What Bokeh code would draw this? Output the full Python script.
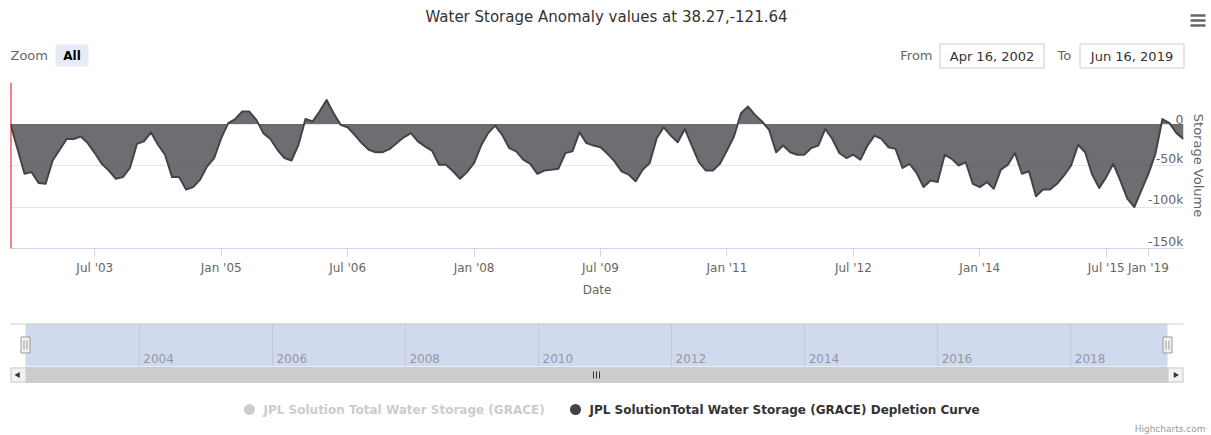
import numpy as np
import pandas as pd
from bokeh.plotting import figure
from bokeh.models import Range1d, FixedTicker, Span, ColumnDataSource
from bokeh.layouts import column
from bokeh.embed import file_html
from bokeh.resources import INLINE
from bokeh.core.properties import value

FONT = "DejaVu Sans"

# ---------------- data ----------------
title_text = "Water Storage Anomaly values at 38.27,-121.64"
series_name = "JPL SolutionTotal Water Storage (GRACE) Depletion Curve"
hidden_series_name = "JPL Solution Total Water Storage (GRACE)"
from_date = "2002-04-16"
to_date = "2019-06-16"
from_label = "Apr 16, 2002"
to_label = "Jun 16, 2019"

grace_dates = pd.date_range("2002-07-01", "2015-08-01", freq="MS")
fo_dates = pd.to_datetime(["2018-07-01", "2018-10-01", "2018-11-01", "2018-12-01",
                           "2019-01-01", "2019-02-01", "2019-03-01", "2019-04-01",
                           "2019-05-01", "2019-06-01"])
dates = grace_dates.append(fo_dates)

# storage anomaly, thousands
storage_k = [
    0, -30, -60, -58, -71, -72, -44, -31, -18, -18,
    -15, -23, -35, -48, -56, -66, -64, -53, -24, -21,
    -10, -25, -37, -64, -64, -79, -76, -67, -51, -41,
    -17, 1, 6, 15, 15, 5, -11, -18, -31, -41,
    -44, -25, 6, 3, 15, 29, 13, -1, -4, -13,
    -23, -31, -34, -34, -30, -23, -16, -11, -21, -27,
    -32, -49, -49, -57, -66, -58, -47, -26, -11, -2,
    -13, -29, -33, -43, -48, -60, -56, -55, -54, -35,
    -33, -10, -23, -26, -28, -36, -45, -57, -61, -69,
    -55, -47, -17, -4, -14, -22, -6, -26, -46, -56,
    -56, -48, -32, -15, 13, 21, 11, 3, -7, -34,
    -26, -34, -37, -37, -29, -26, -6, -18, -35, -41,
    -37, -43, -26, -14, -18, -28, -30, -53, -48, -59,
    -76, -68, -70, -37, -42, -50, -46, -72, -76, -70,
    -78, -55, -49, -35, -60, -57, -87, -79, -79, -72,
    -62, -50, -25, -34, -61, -77, -64, -48, -68, -90,
    -100, -80, -60, -36, 6, 1, -11, -18,
]

x_tick_dates = ["2003-07-01", "2005-01-01", "2006-07-01", "2008-01-01", "2009-07-01",
                "2011-01-01", "2012-07-01", "2014-01-01", "2015-07-01", "2019-01-01"]
x_tick_labels = ["Jul '03", "Jan '05", "Jul '06", "Jan '08", "Jul '09",
                 "Jan '11", "Jul '12", "Jan '14", "Jul '15", "Jan '19"]
y_ticks = [-150, -100, -50, 0, 50]
y_tick_labels = ["-150k", "-100k", "-50k", "0"]
nav_years = [2004, 2006, 2008, 2010, 2012, 2014, 2016, 2018]

W = 1209


def add_text(f, x, y, s, size, color, align="left", style="normal", baseline="middle", **kw):
    f.text(x=[x], y=[y], text=[s], text_font=value(FONT), text_font_size=size,
           text_color=color, text_align=align, text_baseline=baseline,
           text_font_style=style, **kw)


def canvas(height, y_top, y_bottom):
    f = figure(width=W, height=height, x_range=Range1d(0, W),
               y_range=Range1d(y_bottom, y_top), toolbar_location=None,
               output_backend="svg", min_border=0, x_axis_location=None,
               y_axis_location=None, title=None)
    f.frame_align = False
    f.grid.visible = False
    f.outline_line_color = None
    f.background_fill_color = "white"
    f.border_fill_color = "white"
    return f


# ---------------- header (y 0..78) ----------------
hdr = canvas(78, 0, 78)
add_text(hdr, 606, 16.5, title_text, "15px", "#333333", align="center")
for yy in [15, 20, 25]:
    hdr.segment(x0=[1190], x1=[1205], y0=[yy], y1=[yy], line_color="#666666", line_width=2.5)
add_text(hdr, 10, 55, "Zoom", "13px", "#666666")
hdr.quad(left=[55], right=[88], top=[44], bottom=[66], fill_color="#e6ebf5", line_color=None)
add_text(hdr, 71.5, 55, "All", "12px", "#000000", align="center", style="bold")
add_text(hdr, 932, 55, "From", "13px", "#666666", align="right")
hdr.quad(left=[939.5], right=[1043.5], top=[43.5], bottom=[67.5], fill_color="white",
         line_color="#cccccc", line_width=1)
add_text(hdr, 991.5, 55.5, from_label, "13px", "#333333", align="center")
add_text(hdr, 1057, 55, "To", "13px", "#666666")
hdr.quad(left=[1079.5], right=[1183.5], top=[43.5], bottom=[67.5], fill_color="white",
         line_color="#cccccc", line_width=1)
add_text(hdr, 1131.5, 55.5, to_label, "13px", "#333333", align="center")

# ---------------- main chart (y 78..299) ----------------
idx = np.arange(len(dates))
date_ns = dates.values.astype("datetime64[ns]").astype(np.int64)
tick_ns = pd.to_datetime(x_tick_dates).values.astype("datetime64[ns]").astype(np.int64)
tick_pos = [round(float(v), 4) for v in np.interp(tick_ns, date_ns, idx)]

src = ColumnDataSource(dict(x=idx, y=storage_k, zero=[0] * len(idx)))
p = figure(width=W, height=221, x_range=Range1d(0, len(idx) - 1), y_range=Range1d(-150, 50),
           y_axis_location="right", toolbar_location=None, output_backend="svg", title=None,
           min_border_left=10, min_border_right=W - 1183, min_border_top=4, min_border_bottom=50)
p.frame_align = False
p.outline_line_color = None
p.xgrid.visible = False
p.ygrid.ticker = FixedTicker(ticks=y_ticks)
p.ygrid.grid_line_color = "#e6e6e6"

p.varea(x="x", y1="zero", y2="y", source=src, fill_color="#434348", fill_alpha=0.77)
p.line(x="x", y="y", source=src, line_color="#434348", line_width=2, line_join="round")
p.add_layout(Span(location=0, dimension="height", line_color="#ff0000", line_width=2))

p.text(x=[len(idx) - 1] * len(y_tick_labels), y=y_ticks[:len(y_tick_labels)], text=y_tick_labels,
       text_font=value(FONT), text_font_size="12.5px", text_color="#666666",
       text_align="right", text_baseline="bottom")

xa = p.xaxis[0]
xa.ticker = FixedTicker(ticks=tick_pos)
xa.major_label_overrides = {t: l for t, l in zip(tick_pos, x_tick_labels)}
xa.major_tick_out = 8
xa.major_tick_in = 0
xa.minor_tick_line_color = None
xa.axis_line_color = "#ccd6eb"
xa.major_tick_line_color = "#ccd6eb"
xa.major_label_text_color = "#666666"
xa.major_label_text_font = FONT
xa.major_label_text_font_size = "12px"
xa.major_label_standoff = 4
xa.axis_label = "Date"
xa.axis_label_text_font = FONT
xa.axis_label_text_font_size = "12px"
xa.axis_label_text_font_style = "normal"
xa.axis_label_text_color = "#666666"
xa.axis_label_standoff = 5

ya = p.yaxis[0]
ya.ticker = FixedTicker(ticks=[])
ya.axis_line_color = None
ya.major_tick_out = 0
ya.major_tick_in = 0
ya.minor_tick_line_color = None
ya.major_label_standoff = 0
ya.axis_label = "Storage Volume"
ya.axis_label_text_font = FONT
ya.axis_label_text_font_size = "13px"
ya.axis_label_text_font_style = "normal"
ya.axis_label_text_color = "#666666"
ya.axis_label_standoff = 7

# ---------------- navigator, scrollbar, legend, credits (y 299..434) ----------------
bot = canvas(135, 299, 434)
t0 = pd.Timestamp(from_date).value / 1e6
t1 = pd.Timestamp(to_date).value / 1e6
k = (t1 - t0) / (1167 - 25)
bot.extra_x_ranges = {"date": Range1d(t0 - 25 * k, t1 + (W - 1167) * k)}
year_ms = [pd.Timestamp(f"{y}-01-01").value / 1e6 for y in nav_years]

bot.segment(x0=year_ms, x1=year_ms, y0=[323] * len(year_ms), y1=[366] * len(year_ms),
            x_range_name="date", line_color="#e6e6e6", line_width=1)
bot.quad(left=[t0], right=[t1], top=[323], bottom=[366], x_range_name="date",
         fill_color="#6685c2", fill_alpha=0.3, line_color=None)
bot.segment(x0=[10], x1=[1183], y0=[323.5], y1=[323.5], line_color="#cccccc", line_width=1)
bot.text(x=year_ms, y=[358] * len(year_ms), text=[str(y) for y in nav_years],
         x_range_name="date", x_offset=4, text_font=value(FONT), text_font_size="12px",
         text_color="#8f98a8", text_align="left", text_baseline="middle")

# scrollbar
bot.quad(left=[10], right=[1183], top=[367], bottom=[382], fill_color="#f2f2f2",
         line_color="#f2f2f2")
bot.quad(left=[t0], right=[t1], top=[367], bottom=[382], x_range_name="date",
         fill_color="#cccccc", line_color="#cccccc")
bot.quad(left=[10.5, 1167.5], right=[25.5, 1182.5], top=[367.5, 367.5], bottom=[381.5, 381.5],
         fill_color="#f2f2f2", line_color="#cccccc", line_width=1)
bot.scatter(x=[17.5], y=[374.5], marker="triangle", angle=np.pi / 2, size=6,
            fill_color="#333333", line_color=None)
bot.scatter(x=[1175], y=[374.5], marker="triangle", angle=-np.pi / 2, size=6,
            fill_color="#333333", line_color=None)
mid = (25 + 1167) / 2
bot.segment(x0=[mid - 3, mid, mid + 3], x1=[mid - 3, mid, mid + 3], y0=[371] * 3, y1=[378] * 3,
            line_color="#333333", line_width=1)

# handles
for hx in [25, 1167]:
    bot.quad(left=[hx - 4.5], right=[hx + 4.5], top=[336.5], bottom=[352.5],
             fill_color="#f2f2f2", line_color="#999999", line_width=1)
    bot.segment(x0=[hx - 1.5, hx + 1.5], x1=[hx - 1.5, hx + 1.5], y0=[340, 340], y1=[349, 349],
                line_color="#999999", line_width=1)

# legend
bot.scatter(x=[249, 575], y=[409, 409], marker="circle", size=11,
            fill_color=["#cccccc", "#434348"], line_color=None)
add_text(bot, 263, 409, hidden_series_name, "12px", "#cccccc", style="bold")
add_text(bot, 589, 409, series_name, "12px", "#333333", style="bold")

# credits
add_text(bot, 1205, 428, "Highcharts.com", "9px", "#999999", align="right")

layout = column(hdr, p, bot, spacing=0)
open("out.html", "w").write(file_html(layout, INLINE))
